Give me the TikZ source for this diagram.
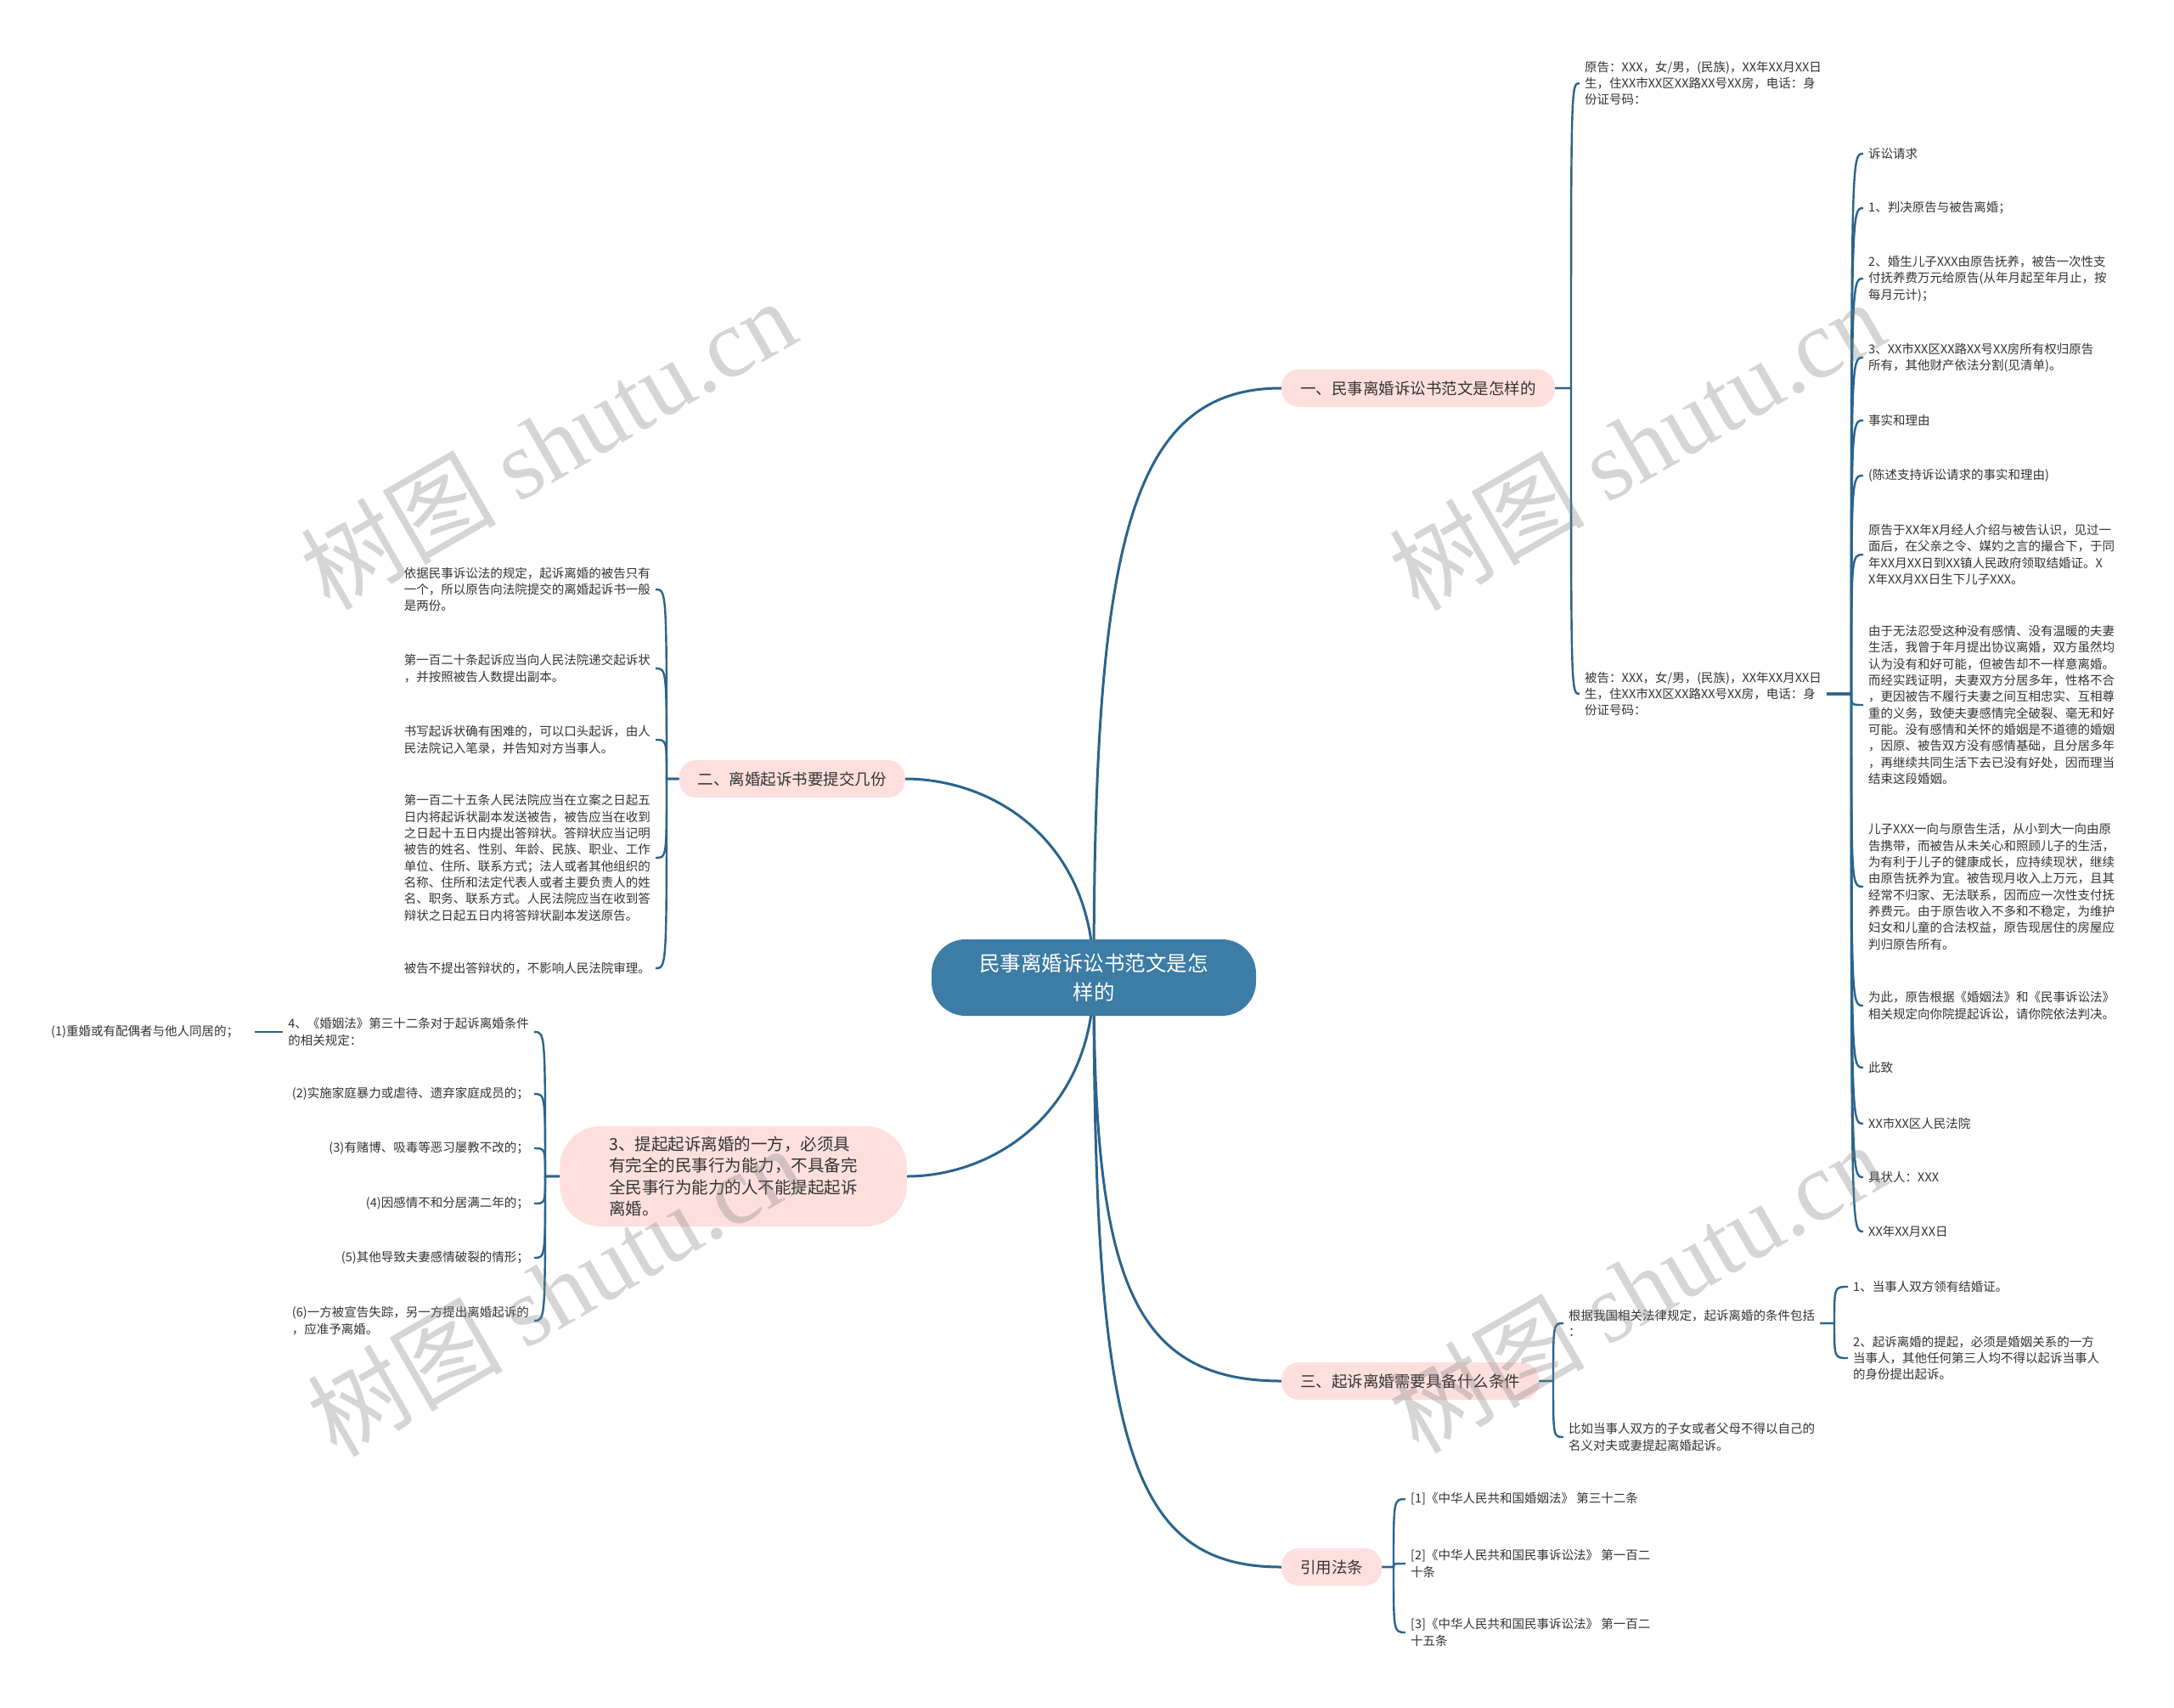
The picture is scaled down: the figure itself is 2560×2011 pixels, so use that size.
\documentclass[tikz,border=0pt]{standalone}
\usepackage{fontspec}
\newfontfamily\cjk{Noto Sans CJK SC}
\newfontfamily\wmlat{Liberation Serif}
\usetikzlibrary{backgrounds}
\definecolor{linec}{RGB}{42,100,140}
\definecolor{rootc}{RGB}{60,124,165}
\definecolor{pinkc}{RGB}{253,224,222}
\definecolor{txtc}{RGB}{51,51,51}
\definecolor{wmc}{RGB}{128,128,128}
\begin{document}
\begin{tikzpicture}[x=1pt,y=-1pt,
  rootnode/.style={fill=rootc, text=white, font=\cjk\fontsize{24.5}{34}\selectfont, rounded corners=40pt, minimum width=382pt, minimum height=90pt, align=center, inner sep=0pt},
  brnode/.style={fill=pinkc, text=txtc, font=\cjk\fontsize{18.5}{25.6}\selectfont, rounded corners=20pt, minimum height=44pt, inner xsep=22pt, inner ysep=0pt},
  leafnode/.style={text=txtc, font=\cjk\fontsize{14.5}{19.3}\selectfont, align=left, inner xsep=6pt, inner ysep=2pt},
  mainline/.style={draw=linec, line width=3pt},
  subline/.style={draw=linec, line width=2.4pt},
  wmark/.style={text=wmc, text opacity=0.33, font=\cjk\fontsize{115}{115}\selectfont, rotate=30, inner sep=0pt}
]
\useasboundingbox (0,0) rectangle (2560,2011);
\begin{pgfonlayer}{background}
\fill[white] (0,0) rectangle (2560,2011);
\end{pgfonlayer}

% root and branches
\node[rootnode] (c) at (1288,1151) {民事离婚诉讼书范文是怎\\样的};
\node[brnode, anchor=west] (b1) at (1509,457) {一、民事离婚诉讼书范文是怎样的};
\node[brnode, anchor=east] (b2) at (1066,917) {二、离婚起诉书要提交几份};
\node[brnode, anchor=east, align=left, font=\cjk\fontsize{19.5}{25.6}\selectfont, inner xsep=58pt, minimum height=118pt, rounded corners=48pt] (b3) at (1068,1385) {3、提起起诉离婚的一方，必须具\\有完全的民事行为能力，不具备完\\全民事行为能力的人不能提起起诉\\离婚。};
\node[brnode, anchor=west] (b4) at (1509,1626) {三、起诉离婚需要具备什么条件};
\node[brnode, anchor=west] (b5) at (1509,1845) {引用法条};

% branch 1
\node[leafnode, anchor=west] (yg) at (1860,98) {原告：XXX，女/男，(民族)，XX年XX月XX日\\生，住XX市XX区XX路XX号XX房，电话：身\\份证号码：};
\node[leafnode, anchor=west] (bg) at (1860,817) {被告：XXX，女/男，(民族)，XX年XX月XX日\\生，住XX市XX区XX路XX号XX房，电话：身\\份证号码：};

\node[leafnode, anchor=west] (r1) at (2194,181) {诉讼请求};
\node[leafnode, anchor=west] (r2) at (2194,245) {1、判决原告与被告离婚；};
\node[leafnode, anchor=west] (r3) at (2194,328) {2、婚生儿子XXX由原告抚养，被告一次性支\\付抚养费万元给原告(从年月起至年月止，按\\每月元计)；};
\node[leafnode, anchor=west] (r4) at (2194,421) {3、XX市XX区XX路XX号XX房所有权归原告\\所有，其他财产依法分割(见清单)。};
\node[leafnode, anchor=west] (r5) at (2194,495) {事实和理由};
\node[leafnode, anchor=west] (r6) at (2194,560) {(陈述支持诉讼请求的事实和理由)};
\node[leafnode, anchor=west] (r7) at (2194,653) {原告于XX年X月经人介绍与被告认识，见过一\\面后，在父亲之令、媒妁之言的撮合下，于同\\年XX月XX日到XX镇人民政府领取结婚证。X\\X年XX月XX日生下儿子XXX。};
\node[leafnode, anchor=west] (r8) at (2194,830) {由于无法忍受这种没有感情、没有温暖的夫妻\\生活，我曾于年月提出协议离婚，双方虽然均\\认为没有和好可能，但被告却不一样意离婚。\\而经实践证明，夫妻双方分居多年，性格不合\\，更因被告不履行夫妻之间互相忠实、互相尊\\重的义务，致使夫妻感情完全破裂、毫无和好\\可能。没有感情和关怀的婚姻是不道德的婚姻\\，因原、被告双方没有感情基础，且分居多年\\，再继续共同生活下去已没有好处，因而理当\\结束这段婚姻。};
\node[leafnode, anchor=west] (r9) at (2194,1044) {儿子XXX一向与原告生活，从小到大一向由原\\告携带，而被告从未关心和照顾儿子的生活，\\为有利于儿子的健康成长，应持续现状，继续\\由原告抚养为宜。被告现月收入上万元，且其\\经常不归家、无法联系，因而应一次性支付抚\\养费元。由于原告收入不多和不稳定，为维护\\妇女和儿童的合法权益，原告现居住的房屋应\\判归原告所有。};
\node[leafnode, anchor=west] (r10) at (2194,1184) {为此，原告根据《婚姻法》和《民事诉讼法》\\相关规定向你院提起诉讼，请你院依法判决。};
\node[leafnode, anchor=west] (r11) at (2194,1257) {此致};
\node[leafnode, anchor=west] (r12) at (2194,1323) {XX市XX区人民法院};
\node[leafnode, anchor=west] (r13) at (2194,1386) {具状人：XXX};
\node[leafnode, anchor=west] (r14) at (2194,1450) {XX年XX月XX日};

% branch 2
\node[leafnode, anchor=east] (e1) at (772,694) {依据民事诉讼法的规定，起诉离婚的被告只有\\一个，所以原告向法院提交的离婚起诉书一般\\是两份。};
\node[leafnode, anchor=east] (e2) at (772,787) {第一百二十条起诉应当向人民法院递交起诉状\\，并按照被告人数提出副本。};
\node[leafnode, anchor=east] (e3) at (772,871) {书写起诉状确有困难的，可以口头起诉，由人\\民法院记入笔录，并告知对方当事人。};
\node[leafnode, anchor=east] (e4) at (772,1010) {第一百二十五条人民法院应当在立案之日起五\\日内将起诉状副本发送被告，被告应当在收到\\之日起十五日内提出答辩状。答辩状应当记明\\被告的姓名、性别、年龄、民族、职业、工作\\单位、住所、联系方式；法人或者其他组织的\\名称、住所和法定代表人或者主要负责人的姓\\名、职务、联系方式。人民法院应当在收到答\\辩状之日起五日内将答辩状副本发送原告。};
\node[leafnode, anchor=east] (e5) at (772,1140) {被告不提出答辩状的，不影响人民法院审理。};

% branch 3
\node[leafnode, anchor=east] (f1) at (629,1215) {4、《婚姻法》第三十二条对于起诉离婚条件\\的相关规定：};
\node[leafnode, anchor=east, outer xsep=13pt] (f11) at (300,1215) {(1)重婚或有配偶者与他人同居的；};
\node[leafnode, anchor=east] (f2) at (629,1288) {(2)实施家庭暴力或虐待、遗弃家庭成员的；};
\node[leafnode, anchor=east] (f3) at (629,1352) {(3)有赌博、吸毒等恶习屡教不改的；};
\node[leafnode, anchor=east] (f4) at (629,1417) {(4)因感情不和分居满二年的；};
\node[leafnode, anchor=east] (f5) at (629,1481) {(5)其他导致夫妻感情破裂的情形；};
\node[leafnode, anchor=east] (f6) at (629,1555) {(6)一方被宣告失踪，另一方提出离婚起诉的\\，应准予离婚。};

% branch 三
\node[leafnode, anchor=west] (g1) at (1841,1558) {根据我国相关法律规定，起诉离婚的条件包括\\：};
\node[leafnode, anchor=west] (g2) at (1841,1692) {比如当事人双方的子女或者父母不得以自己的\\名义对夫或妻提起离婚起诉。};
\node[leafnode, anchor=west] (g11) at (2176,1515) {1、当事人双方领有结婚证。};
\node[leafnode, anchor=west] (g12) at (2176,1599) {2、起诉离婚的提起，必须是婚姻关系的一方\\当事人，其他任何第三人均不得以起诉当事人\\的身份提出起诉。};

% branch 引用法条
\node[leafnode, anchor=west] (h1) at (1655,1765) {[1]《中华人民共和国婚姻法》 第三十二条};
\node[leafnode, anchor=west] (h2) at (1655,1841) {[2]《中华人民共和国民事诉讼法》 第一百二\\十条};
\node[leafnode, anchor=west] (h3) at (1655,1922) {[3]《中华人民共和国民事诉讼法》 第一百二\\十五条};

% trunk coordinates
\coordinate (t1) at (1850,0);
\coordinate (t3) at (2180,0);
\coordinate (t4) at (785,0);
\coordinate (t5) at (642,0);
\coordinate (t6) at (1829,0);
\coordinate (t7) at (2160,0);
\coordinate (t8) at (1641,0);

\begin{pgfonlayer}{background}
\draw[mainline] (c.center) .. controls (1288,640) and (1330,457) .. (b1.west);
\draw[mainline] (c.center) .. controls (1288,990) and (1170,917) .. (b2.east);
\draw[mainline] (c.center) .. controls (1288,1310) and (1170,1385) .. (b3.east);
\draw[mainline] (c.center) .. controls (1288,1500) and (1330,1626) .. (b4.west);
\draw[mainline] (c.center) .. controls (1288,1700) and (1330,1845) .. (b5.west);

\foreach \n in {yg,bg}
  \draw[subline] (b1.east) -- (b1.east -| t1) .. controls (\n.west -| t1) .. (\n.west);
\foreach \i in {1,...,14}
  \draw[subline] (bg.east) -- (bg.east -| t3) .. controls (r\i.west -| t3) .. (r\i.west);
\foreach \n in {e1,e2,e3,e4,e5}
  \draw[subline] (b2.west) -- (b2.west -| t4) .. controls (\n.east -| t4) .. (\n.east);
\foreach \n in {f1,f2,f3,f4,f5,f6}
  \draw[subline] (b3.west) -- (b3.west -| t5) .. controls (\n.east -| t5) .. (\n.east);
\draw[subline] (f1.west) -- (f11.east);
\foreach \n in {g1,g2}
  \draw[subline] (b4.east) -- (b4.east -| t6) .. controls (\n.west -| t6) .. (\n.west);
\foreach \n in {g11,g12}
  \draw[subline] (g1.east) -- (g1.east -| t7) .. controls (\n.west -| t7) .. (\n.west);
\foreach \n in {h1,h2,h3}
  \draw[subline] (b5.east) -- (b5.east -| t8) .. controls (\n.west -| t8) .. (\n.west);
\end{pgfonlayer}

% watermarks
\node[wmark] (w1) at (645,522) {树图 {\wmlat shutu.cn}};
\node[wmark] (w2) at (1927,523) {树图 {\wmlat shutu.cn}};
\node[wmark] (w3) at (653,1519) {树图 {\wmlat shutu.cn}};
\node[wmark] (w4) at (1927,1515) {树图 {\wmlat shutu.cn}};
\end{tikzpicture}
\end{document}
